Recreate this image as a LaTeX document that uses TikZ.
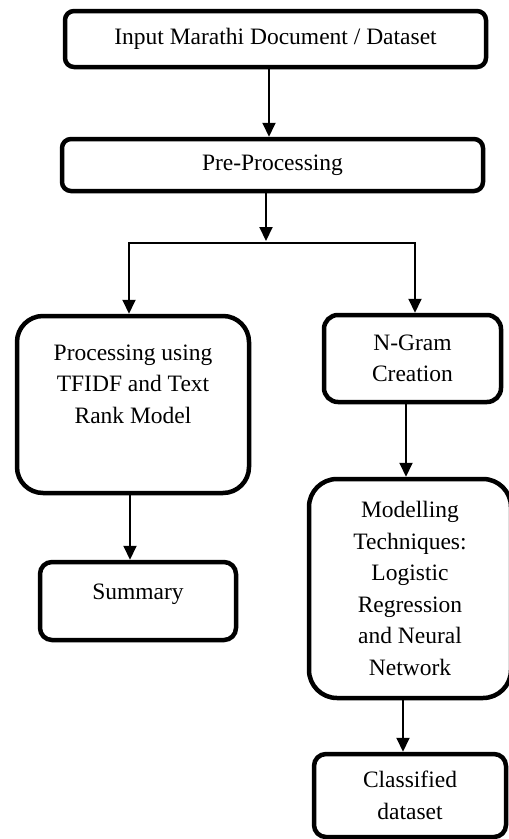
\documentclass[tikz,border=0pt]{standalone}
\usepackage{fontspec}
\setmainfont{Liberation Serif}
\usetikzlibrary{arrows.meta,positioning}
\tikzset{
  blk/.style={draw=black,line width=4.5pt,rounded corners=9pt,align=center,
              font=\fontsize{23.5}{31.5}\selectfont,inner sep=0pt},
  arr/.style={-{Triangle[length=14pt,width=13pt]},line width=2pt},
  lnk/.style={line width=2pt,line cap=rect},
}
\begin{document}
\begin{tikzpicture}[x=1pt,y=-1pt]
  \useasboundingbox (0,0) rectangle (509,839);
  \clip (0,0) rectangle (509,839);
  % top row
  \node[blk,minimum width=421pt,minimum height=56pt] (inp) at (275.5,39) {Input Marathi Document / Dataset};
  \node[blk,minimum width=421pt,minimum height=52pt] (pre) at (272.5,165) {Pre-Processing};
  % left branch
  \node[blk,rounded corners=26pt,minimum width=232pt,minimum height=177pt] (proc) at (133,404.5)
     {Processing using\\TFIDF and Text\\Rank Model\\\strut};
  \node[blk,rounded corners=12pt,minimum width=196pt,minimum height=78pt,text depth=18pt] (summ) at (138,601) {Summary};
  % right branch
  \node[blk,rounded corners=14pt,minimum width=177pt,minimum height=87pt] (ngram) at (412.5,358.5) {N-Gram\\Creation};
  \node[blk,rounded corners=28pt,minimum width=202pt,minimum height=219pt] (model) at (410,588.5)
     {Modelling\\Techniques:\\Logistic\\Regression\\and Neural\\Network};
  \node[blk,rounded corners=12pt,minimum width=192pt,minimum height=83pt] (clsd) at (410,795.5) {Classified\\dataset};
  % connectors
  \coordinate (c1) at (269,0);
  \coordinate (split) at (266,243);
  \coordinate (lcol) at (129,243);
  \coordinate (rcol) at (415,243);
  \draw[arr] (inp.south -| c1) -- (pre.north -| c1);
  \draw[arr,shorten >=2pt] (pre.south -| split) -- (split);
  \draw[lnk] (lcol) -- (rcol);
  \draw[arr] (lcol) -- (proc.north -| lcol);
  \draw[arr] (rcol) -- (ngram.north -| rcol);
  \draw[arr] ([xshift=-3pt]proc.south) -- ([xshift=-8pt]summ.north);
  \draw[arr] ([xshift=-6.5pt]ngram.south) -- ([xshift=-4pt]model.north);
  \draw[arr] ([xshift=-7pt]model.south) -- ([xshift=-7pt]clsd.north);
\end{tikzpicture}
\end{document}
